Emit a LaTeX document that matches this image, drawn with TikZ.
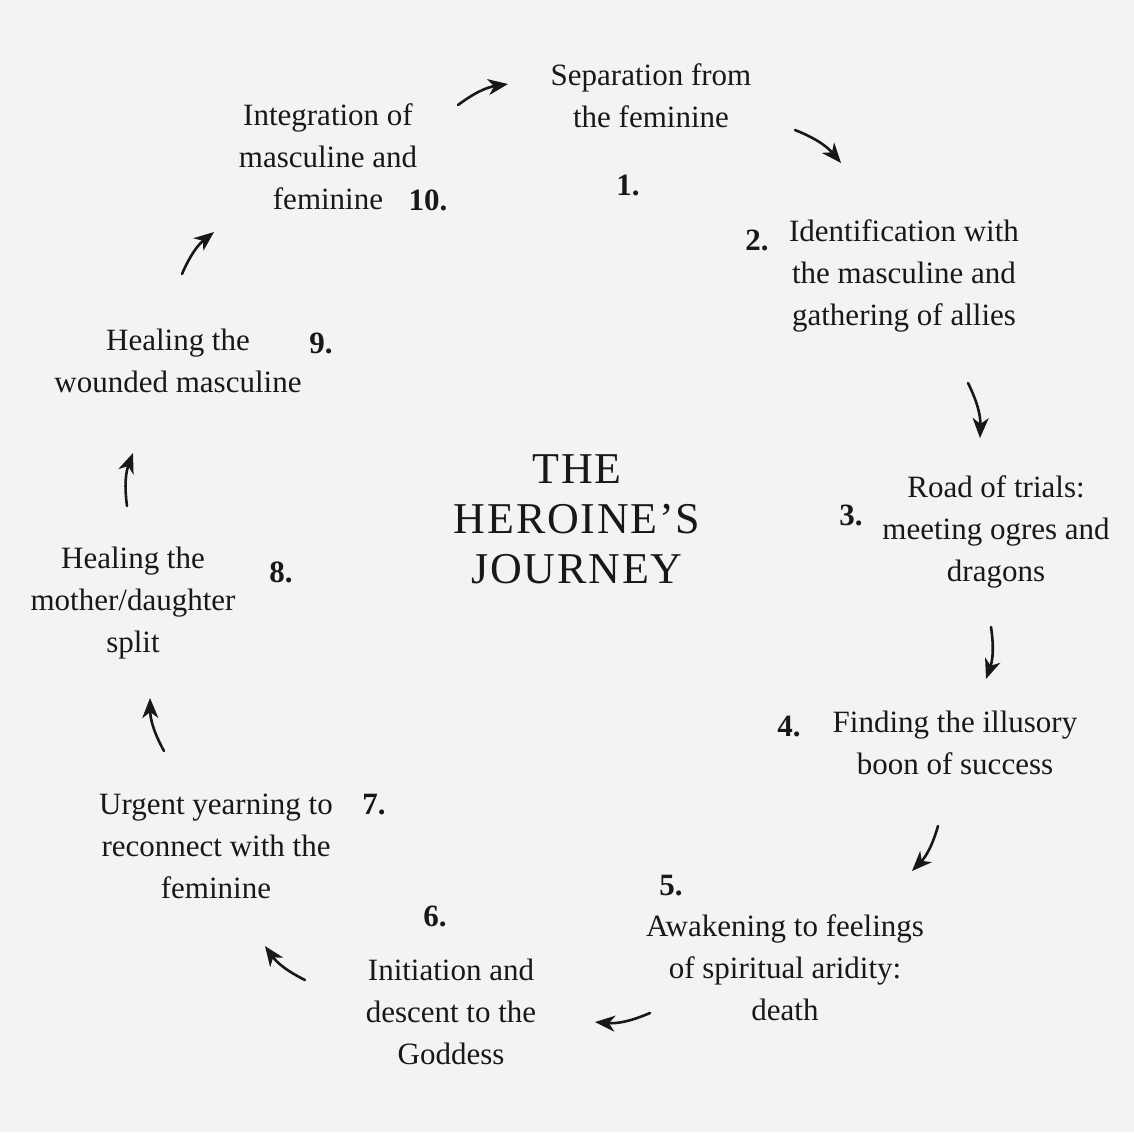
\documentclass[tikz,border=0pt]{standalone}
\usepackage{fontspec}
\setmainfont{Liberation Serif}
\newfontfamily\titlefont[LetterSpace=4]{Liberation Serif}
\usetikzlibrary{arrows.meta}
\definecolor{ink}{RGB}{24,24,24}
\definecolor{paper}{RGB}{243,243,241}
\begin{document}
\begin{tikzpicture}[x=1pt,y=-1pt,
  txt/.style={align=center,font=\fontsize{31}{42}\selectfont,inner sep=0pt,text=ink},
  num/.style={font=\fontsize{31}{36}\selectfont\bfseries,inner sep=0pt,text=ink},
  ttl/.style={align=center,font=\fontsize{44}{50}\titlefont,inner sep=0pt,text=ink},
  arr/.style={-{Stealth[length=20pt,width=16pt,inset=6pt]},line width=2.6pt,draw=ink,line cap=round,bend left=14}]
\fill[paper] (0,0) rectangle (1134,1132);
\useasboundingbox (0,0) rectangle (1134,1132);

% title
\node[ttl] (title) at (577,519) {THE\\HEROINE’S\\JOURNEY};

% stage texts
\node[txt] (t1) at (651,96) {Separation from\\the feminine};
\node[txt] (t2) at (904,276) {Identification with\\the masculine and\\gathering of allies};
\node[txt] (t3) at (996,532) {Road of trials:\\meeting ogres and\\dragons};
\node[txt] (t4) at (955,743) {Finding the illusory\\boon of success};
\node[txt] (t5) at (785,968) {Awakening to feelings\\of spiritual aridity:\\death};
\node[txt] (t6) at (451,1012) {Initiation and\\descent to the\\Goddess};
\node[txt] (t7) at (216,846) {Urgent yearning to\\reconnect with the\\feminine};
\node[txt] (t8) at (133,603) {Healing the\\mother/daughter\\split};
\node[txt] (t9) at (178,361) {Healing the\\wounded masculine};
\node[txt] (t10) at (328,157) {Integration of\\masculine and\\feminine};

% numbers
\node[num] (n1) at (628,185) {1.};
\node[num] (n2) at (757,240) {2.};
\node[num] (n3) at (851,515) {3.};
\node[num] (n4) at (789,727) {4.};
\node[num] (n5) at (671,886) {5.};
\node[num] (n6) at (435,916) {6.};
\node[num] (n7) at (374,805) {7.};
\node[num] (n8) at (281,572) {8.};
\node[num] (n9) at (321,343) {9.};
\node[num] (n10) at (428,200) {10.};

% arrow end points
\coordinate (a1s) at (458,105);  \coordinate (a1e) at (508,84);
\coordinate (a2s) at (795,130);  \coordinate (a2e) at (841,163);
\coordinate (a3s) at (968,383);  \coordinate (a3e) at (980,438);
\coordinate (a4s) at (991,627);  \coordinate (a4e) at (986,679);
\coordinate (a5s) at (938,826);  \coordinate (a5e) at (912,871);
\coordinate (a6s) at (650,1013); \coordinate (a6e) at (595,1022);
\coordinate (a7s) at (305,980);  \coordinate (a7e) at (265,946);
\coordinate (a8s) at (164,751);  \coordinate (a8e) at (150,698);
\coordinate (a9s) at (127,506);  \coordinate (a9e) at (133,453);
\coordinate (a10s) at (182,274); \coordinate (a10e) at (214,232);

\draw[arr] (a1s) to (a1e);
\draw[arr] (a2s) to (a2e);
\draw[arr] (a3s) to (a3e);
\draw[arr] (a4s) to (a4e);
\draw[arr] (a5s) to (a5e);
\draw[arr] (a6s) to (a6e);
\draw[arr] (a7s) to (a7e);
\draw[arr] (a8s) to (a8e);
\draw[arr] (a9s) to (a9e);
\draw[arr] (a10s) to (a10e);
\end{tikzpicture}
\end{document}
